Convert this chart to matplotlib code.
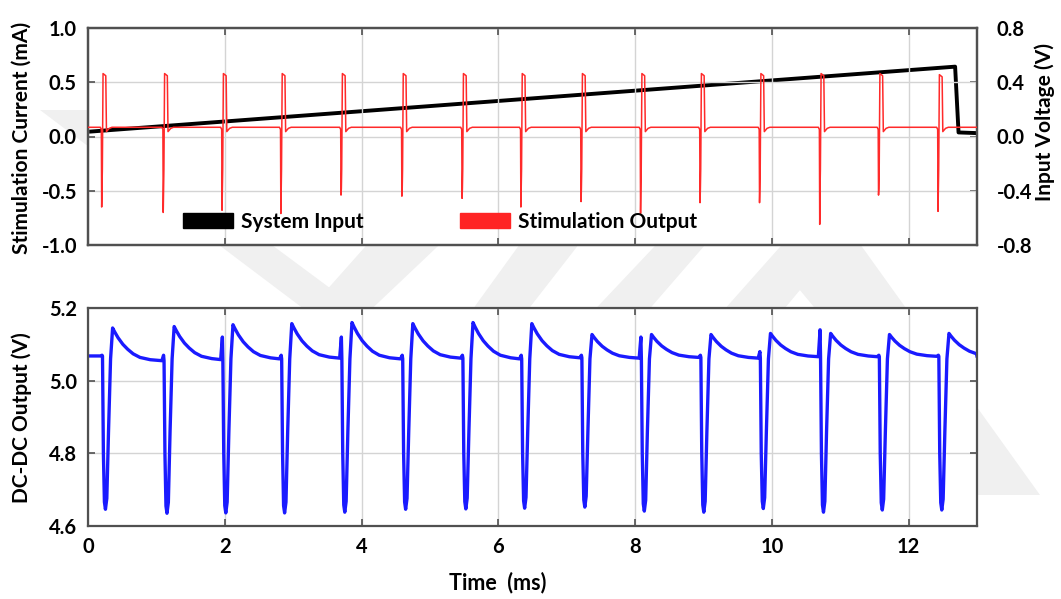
import matplotlib
matplotlib.use("Agg")
import matplotlib.pyplot as plt
import matplotlib.patches as mpatches
from matplotlib.patches import Polygon

# pulse times (ms)
pulse_t = [0.23, 1.13, 1.99, 2.85, 3.73, 4.62, 5.50, 6.36, 7.24, 8.11, 8.98, 9.85, 10.73, 11.59, 12.46]

# stimulation output (mA)
red_base = 0.085
red_peak = [0.58, 0.58, 0.58, 0.58, 0.58, 0.58, 0.58, 0.58, 0.58, 0.58, 0.58, 0.58, 0.58, 0.58, 0.57]
red_min = [-0.65, -0.70, -0.68, -0.71, -0.54, -0.55, -0.57, -0.65, -0.60, -0.71, -0.61, -0.61, -0.81, -0.54, -0.69]

# system input ramp (V)
vin_t = [0.0, 12.68, 12.73, 13.0]
vin_v = [0.035, 0.515, 0.03, 0.025]

# dc-dc output (V)
dc_start = 5.068
dc_base = [5.055, 5.058, 5.060, 5.062, 5.060, 5.062, 5.060, 5.063, 5.062, 5.064, 5.062, 5.066, 5.066, 5.067, 5.068]
dc_pre = [5.07, 5.07, 5.12, 5.07, 5.12, 5.07, 5.07, 5.07, 5.07, 5.12, 5.07, 5.08, 5.14, 5.07, 5.07]
dc_min = [4.646, 4.635, 4.636, 4.636, 4.638, 4.646, 4.647, 4.649, 4.652, 4.641, 4.638, 4.648, 4.638, 4.644, 4.644]
dc_peak = [5.145, 5.149, 5.154, 5.157, 5.160, 5.157, 5.160, 5.157, 5.127, 5.127, 5.127, 5.130, 5.130, 5.127, 5.130]
decay_dt = [0.0, 0.03, 0.08, 0.15, 0.22, 0.30, 0.40, 0.55]
decay_frac = [1.0, 0.88, 0.70, 0.5, 0.35, 0.21, 0.1, 0.03]

# build traces
red_t, red_v = [0.0], [red_base]
for t0, lo, hi in zip(pulse_t, red_min, red_peak):
    red_t += [t0 - 0.05, t0 - 0.035, t0 - 0.03, t0 - 0.025, t0 - 0.02, t0 - 0.01,
              t0 + 0.03, t0 + 0.04, t0 + 0.08, t0 + 0.12]
    red_v += [red_base, red_base - 0.02, lo, -0.48, -0.30, hi,
              hi - 0.02, red_base - 0.04, red_base - 0.01, red_base]
red_t.append(13.0)
red_v.append(red_base)

dc_t, dc_v = [0.0], [dc_start]
pre = dc_start
for i, t0 in enumerate(pulse_t):
    dc_t += [t0 - 0.05, t0 - 0.025, t0 - 0.018, t0 - 0.005, t0 + 0.01, t0 + 0.025,
             t0 + 0.045, t0 + 0.07, t0 + 0.10]
    dc_v += [pre, dc_pre[i], pre, 4.80, dc_min[i] + 0.02, dc_min[i],
             dc_min[i] + 0.03, 4.86, 5.06]
    for dt, f in zip(decay_dt, decay_frac):
        dc_t.append(t0 + 0.13 + dt)
        dc_v.append(dc_base[i] + f * (dc_peak[i] - dc_base[i]))
    pre = dc_base[i]
dc_t.append(13.0)
dc_v.append(pre)

plt.rcParams['font.family'] = ['Lato', 'DejaVu Sans']
plt.rcParams['font.weight'] = 'bold'

W, H = 1061, 599
fig = plt.figure(figsize=(W / 100, H / 100), dpi=100)

# faint watermark behind the axes
wm = [
    [(40, 110), (90, 110), (400, 340), (345, 340)],
    [(380, 230), (455, 230), (360, 320), (300, 320)],
    [(530, 230), (590, 230), (520, 320), (465, 320)],
    [(670, 230), (718, 230), (640, 320), (585, 320)],
    [(795, 230), (850, 230), (775, 320), (715, 320)],
    [(850, 230), (799, 289), (970, 495), (1040, 495)],
]
for poly in wm:
    pts = [(x / W, 1 - y / H) for x, y in poly]
    fig.patches.append(Polygon(pts, closed=True, transform=fig.transFigure,
                               facecolor='#f0f0f0', edgecolor='none', zorder=-10))

ax1 = fig.add_axes([88 / W, 1 - 245 / H, 889 / W, 217 / H])
ax2 = fig.add_axes([88 / W, 1 - 526 / H, 889 / W, 218 / H])
ax1r = ax1.twinx()

spine_c = '#505050'
for ax in (ax1, ax2, ax1r):
    for s in ax.spines.values():
        s.set_color(spine_c)
        s.set_linewidth(1.6)
    ax.tick_params(direction='in', length=5, width=1.2, color=spine_c,
                   labelsize=14.5, pad=8)

for ax in (ax1, ax2):
    ax.set_xlim(0, 13)
    ax.set_xticks([0, 2, 4, 6, 8, 10, 12])
    ax.grid(True, color='#d4d4d4', linewidth=1.0)
    ax.set_axisbelow(True)
    ax.tick_params(axis='x', top=True)

ax1.tick_params(axis='x', labelbottom=False)
ax1.set_ylim(-1.0, 1.0)
ax1.set_yticks([-1.0, -0.5, 0.0, 0.5, 1.0])
ax1.set_yticklabels(['-1.0', '-0.5', '0.0', '0.5', '1.0'])
ax1r.set_ylim(-0.8, 0.8)
ax1r.set_yticks([-0.8, -0.4, 0.0, 0.4, 0.8])
ax1r.set_yticklabels(['-0.8', '-0.4', '0.0', '0.4', '0.8'])
ax1r.tick_params(pad=14)

ax1.plot(red_t, red_v, color='#ff2a2a', linewidth=1.1, zorder=3)
ax1r.plot(vin_t, vin_v, color='black', linewidth=2.8, zorder=2)
ax1.set_zorder(ax1r.get_zorder() + 1)
ax1.patch.set_visible(False)
ax1r.patch.set_visible(True)
ax1r.patch.set_facecolor('white')

ax2.set_ylim(4.6, 5.2)
ax2.set_yticks([4.6, 4.8, 5.0, 5.2])
ax2.set_yticklabels(['4.6', '4.8', '5.0', '5.2'])
ax2.tick_params(axis='y', right=True)
ax2.plot(dc_t, dc_v, color='#1a1aff', linewidth=2.4)

handles = [mpatches.Patch(color='black', label='System Input'),
           mpatches.Patch(color='#ff2424', label='Stimulation Output')]
fig.legend(handles=handles, loc='center left', bbox_to_anchor=(183 / W, 1 - 222 / H),
           ncol=2, frameon=False, fontsize=15, handlelength=2.4, handleheight=0.7,
           handletextpad=0.4, columnspacing=4.6, borderpad=0, borderaxespad=0)

fig.text(22 / W, 1 - 138 / H, 'Stimulation Current (mA)', rotation=90,
         ha='center', va='center', fontsize=15)
fig.text(22 / W, 1 - 418 / H, 'DC-DC Output (V)', rotation=90,
         ha='center', va='center', fontsize=15)
fig.text(1045 / W, 1 - 122 / H, 'Input Voltage (V)', rotation=90,
         ha='center', va='center', fontsize=15)
fig.text(498 / W, 1 - 583 / H, 'Time  (ms)', ha='center', va='center', fontsize=15.5)

fig.savefig('out.png', dpi=100)
